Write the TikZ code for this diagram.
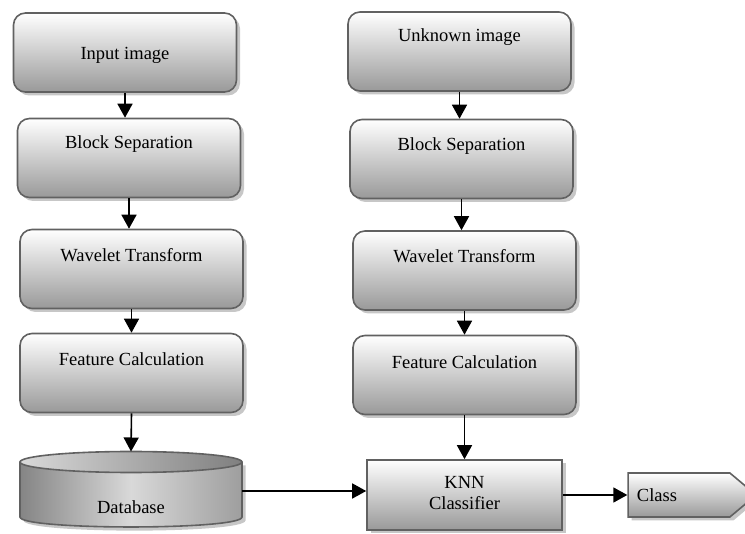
\documentclass[tikz,border=0pt]{standalone}
\usepackage{fontspec}
\setmainfont{Liberation Serif}
\usetikzlibrary{shadows,shapes.symbols,arrows.meta}

\tikzset{
  shadebox/.style={draw=black!62, line width=1.6pt, top color=white, bottom color=black!40,
    drop shadow={shadow xshift=3.5pt, shadow yshift=-3.5pt, fill=black!22, opacity=1},
    inner sep=0pt},
  roundbox/.style={shadebox, rectangle, rounded corners=12pt,
    minimum width=223pt, minimum height=79pt},
  labeltext/.style={font=\fontsize{18.5}{21}\selectfont, inner sep=0pt, align=center},
  flow/.style={line width=1.6pt, -{Triangle[width=15pt,length=14pt]}},
}

\begin{document}
\begin{tikzpicture}[x=1pt,y=-1pt]
\useasboundingbox (0,0) rectangle (745,534);

% left column: training chain
\node[roundbox] (L1) at (125,52.5) {};
\node[roundbox] (L2) at (129,158) {};
\node[roundbox] (L3) at (131.5,269) {};
\node[roundbox] (L4) at (131.5,373) {};
\node[labeltext] (tL1) at (125,55) {Input image};
\node[labeltext] (tL2) at (129,144) {Block Separation};
\node[labeltext] (tL3) at (131.5,255) {Wavelet Transform};
\node[labeltext] (tL4) at (131.5,359) {Feature Calculation};

% right column: query chain
\node[roundbox] (R1) at (459.5,51.5) {};
\node[roundbox] (R2) at (461.5,159) {};
\node[roundbox] (R3) at (464.5,270.5) {};
\node[roundbox] (R4) at (464.5,375) {};
\node[labeltext] (tR1) at (459.5,37) {Unknown image};
\node[labeltext] (tR2) at (461.5,146) {Block Separation};
\node[labeltext] (tR3) at (464.5,256) {Wavelet Transform};
\node[labeltext] (tR4) at (464.5,362) {Feature Calculation};

% database cylinder
\fill[black!22] (23.5,465.5) -- (23.5,520.5) .. controls (23.5,534) and (245.5,534) .. (245.5,520.5) -- (245.5,465.5) -- cycle;
\path[draw=black!62, line width=1.6pt, left color=black!48, right color=black!38, middle color=black!15]
  (20,462) -- (20,517) .. controls (20,530.3) and (242,530.3) .. (242,517) -- (242,462);
\path[draw=black!62, line width=1.6pt, left color=black!15, right color=black!50]
  (131,462) ellipse [x radius=111pt, y radius=10.5pt];
\coordinate (dbtop) at (131,451.5);
\coordinate (dbright) at (242,491);
\node[labeltext] (tDB) at (131,507) {Database};

% classifier and result
\node[shadebox, rectangle, minimum width=195pt, minimum height=70pt] (knn) at (464.5,495) {};
\node[labeltext, text depth=0pt] (tknn) at (464.5,493) {KNN\\Classifier};
\node[shadebox, signal, signal to=east, signal pointer angle=80,
  minimum width=128pt, minimum height=44pt] (cls) at (679,495) {};
\node[labeltext] (tcls) at (657,495) {Class};

% connectors
\draw[flow] (L1.south) -- (L1.south |- L2.north);
\draw[flow] (L2.south) -- (L2.south |- L3.north);
\draw[flow] (L3.south) -- (L3.south |- L4.north);
\draw[flow] (L4.south) -- (dbtop);
\draw[flow] (R1.south) -- (R1.south |- R2.north);
\draw[flow] (R2.south) -- (R2.south |- R3.north);
\draw[flow] (R3.south) -- (R3.south |- R4.north);
\draw[flow] (R4.south) -- (knn.north);
\draw[flow] (dbright) -- (dbright -| knn.west);
\draw[flow] (knn.east) -- (cls.west);
\end{tikzpicture}
\end{document}
